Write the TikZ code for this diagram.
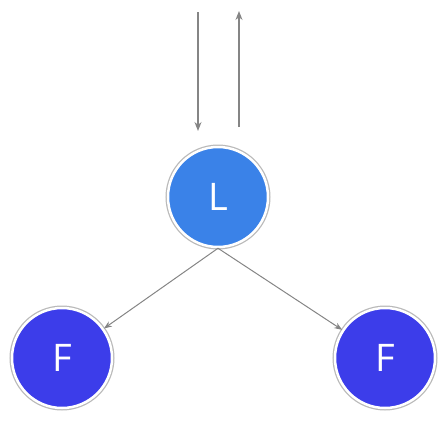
\documentclass[tikz,border=0pt]{standalone}
\usepackage{fontspec}
\setmainfont{Open Sans}
\usetikzlibrary{arrows.meta}
\definecolor{lblue}{HTML}{3A82E8}
\definecolor{fblue}{HTML}{3C3DEA}
\definecolor{arr}{HTML}{858585}
\tikzset{
  nd/.style={circle, minimum size=100pt, inner sep=0pt, fill=#1, draw=white, line width=2.5pt,
    text=white, font=\fontsize{38}{38}\selectfont,
    preaction={draw=gray!55, line width=5pt}},
  con/.style={draw=arr, line width=1.3pt, -{Stealth[length=9pt,width=7pt]}},
  dcon/.style={draw=arr, line width=1pt, -{Stealth[length=8pt,width=6pt]}}
}
\begin{document}
\begin{tikzpicture}[x=1pt,y=-1pt]
\useasboundingbox (0,0) rectangle (448,424);
\node[nd=lblue] (L) at (218,197) {L};
\node[nd=fblue] (F1) at (62,358) {F};
\node[nd=fblue] (F2) at (385,358) {F};
\coordinate (d1) at (198,12);
\coordinate (d2) at (198,131);
\coordinate (u1) at (239,127);
\coordinate (u2) at (239,11);
\draw[con] (d1) -- (d2);
\draw[con] (u1) -- (u2);
\draw[dcon] (L.south) -- (F1);
\draw[dcon] (L.south) -- (F2);
\end{tikzpicture}
\end{document}
